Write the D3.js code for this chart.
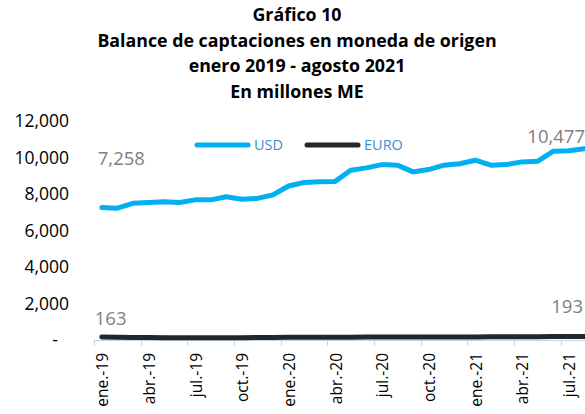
<!DOCTYPE html>
<html>
<head>
<meta charset="utf-8">
<script src="https://cdn.jsdelivr.net/npm/d3@7"></script>
<style>
  body { margin: 0; background: #fff; }
  svg { display: block; font-family: "Open Sans", sans-serif; }
</style>
</head>
<body>
<svg id="chart" width="585" height="414"></svg>
<script>
// months ene-19 .. ago-21
const months = ['ene.-19','feb.-19','mar.-19','abr.-19','may.-19','jun.-19','jul.-19','ago.-19','sep.-19','oct.-19','nov.-19','dic.-19',
  'ene.-20','feb.-20','mar.-20','abr.-20','may.-20','jun.-20','jul.-20','ago.-20','sep.-20','oct.-20','nov.-20','dic.-20',
  'ene.-21','feb.-21','mar.-21','abr.-21','may.-21','jun.-21','jul.-21','ago.-21'];

const usd = [7258, 7220, 7490, 7530, 7580, 7530, 7680, 7680, 7850, 7710, 7760, 7950,
  8440, 8630, 8670, 8690, 9300, 9430, 9610, 9580, 9210, 9340, 9580, 9660,
  9850, 9580, 9610, 9760, 9790, 10340, 10370, 10477];

const euro = [163, 150, 140, 135, 130, 130, 128, 128, 130, 130, 132, 135,
  150, 155, 150, 150, 155, 160, 160, 158, 160, 165, 165, 170,
  170, 175, 175, 180, 180, 185, 190, 193];

const yTicks = [0, 2000, 4000, 6000, 8000, 10000, 12000];
const titleLines = ['Gráfico 10', 'Balance de captaciones en moneda de origen', 'enero 2019 - agosto 2021', 'En millones ME'];

const svg = d3.select('#chart');

const x = d3.scaleBand().domain(months).range([94, 94 + 32 * 15.56]).padding(0);
const y = d3.scaleLinear().domain([0, 12000]).range([340, 121]);
const cx = m => x(m) + x.bandwidth() / 2;

// title
svg.append('g').selectAll('text')
  .data(titleLines)
  .join('text')
  .attr('x', 297)
  .attr('y', (d, i) => 15 + i * 25.5)
  .attr('dy', '0.35em')
  .attr('text-anchor', 'middle')
  .attr('font-weight', 'bold')
  .attr('font-size', '17.8px')
  .attr('fill', '#000')
  .text(d => d);

// y axis
const gY = svg.append('g')
  .attr('transform', 'translate(69,0)')
  .call(d3.axisLeft(y).tickValues(yTicks).tickSize(0)
    .tickFormat(d => d === 0 ? '-' : d3.format(',')(d)));
gY.select('.domain').remove();
gY.selectAll('text')
  .attr('font-family', '"Open Sans", sans-serif')
  .attr('font-size', '17.5px')
  .attr('fill', '#000')
  .attr('x', d => d === 0 ? -11 : 0);

// x axis: light blue line, ticks every 3 months at boundaries
const gX = svg.append('g');
gX.append('line')
  .attr('x1', x.range()[0]).attr('x2', x.range()[1])
  .attr('y1', 340.5).attr('y2', 340.5)
  .attr('stroke', '#bdd7ee').attr('stroke-width', 1);
const labelled = months.filter((m, i) => i % 3 === 0);
gX.selectAll('line.tick')
  .data(labelled)
  .join('line')
  .attr('class', 'tick')
  .attr('x1', d => Math.round(x(d)) + 0.5).attr('x2', d => Math.round(x(d)) + 0.5)
  .attr('y1', 340).attr('y2', 346)
  .attr('stroke', '#bdd7ee').attr('stroke-width', 1);
gX.selectAll('text')
  .data(labelled)
  .join('text')
  .attr('transform', d => `translate(${cx(d) + 1},353) rotate(-90)`)
  .attr('dy', '0.35em')
  .attr('text-anchor', 'end')
  .attr('font-size', '15.5px')
  .attr('fill', '#000')
  .text(d => d);

// lines
const line = d3.line()
  .x((d, i) => cx(months[i]))
  .y(d => y(d));

svg.append('path')
  .datum(euro)
  .attr('d', line)
  .attr('fill', 'none')
  .attr('stroke', '#262626')
  .attr('stroke-width', 5)
  .attr('stroke-linecap', 'round')
  .attr('stroke-linejoin', 'round');

svg.append('path')
  .datum(usd)
  .attr('d', line)
  .attr('fill', 'none')
  .attr('stroke', '#00b0f0')
  .attr('stroke-width', 5)
  .attr('stroke-linecap', 'round')
  .attr('stroke-linejoin', 'round');

// data labels (first and last of each series)
const last = months.length - 1;
const labels = [
  { x: cx(months[0]) - 4, y: y(usd[0]) - 49, text: d3.format(',')(usd[0]), anchor: 'start' },
  { x: 585, y: y(usd[last]) - 12, text: d3.format(',')(usd[last]), anchor: 'end' },
  { x: cx(months[0]) - 7, y: y(euro[0]) - 19, text: d3.format(',')(euro[0]), anchor: 'start' },
  { x: 583, y: y(euro[last]) - 30, text: d3.format(',')(euro[last]), anchor: 'end' }
];
svg.append('g').selectAll('text')
  .data(labels)
  .join('text')
  .attr('x', d => d.x)
  .attr('y', d => d.y)
  .attr('dy', '0.35em')
  .attr('text-anchor', d => d.anchor)
  .attr('font-size', '18.5px')
  .attr('fill', '#808080')
  .text(d => d.text);

// legend
const legend = [
  { name: 'USD', color: '#00b0f0', x: 195 },
  { name: 'EURO', color: '#262626', x: 305 }
];
const lg = svg.append('g').selectAll('g')
  .data(legend)
  .join('g')
  .attr('transform', d => `translate(${d.x},145)`);
lg.append('line')
  .attr('x1', 2).attr('x2', 53)
  .attr('stroke', d => d.color)
  .attr('stroke-width', 5)
  .attr('stroke-linecap', 'round');
lg.append('text')
  .attr('x', 59)
  .attr('dy', '0.35em')
  .attr('font-size', '14.5px')
  .attr('fill', '#3a8fcf')
  .text(d => d.name);
</script>
</body>
</html>
